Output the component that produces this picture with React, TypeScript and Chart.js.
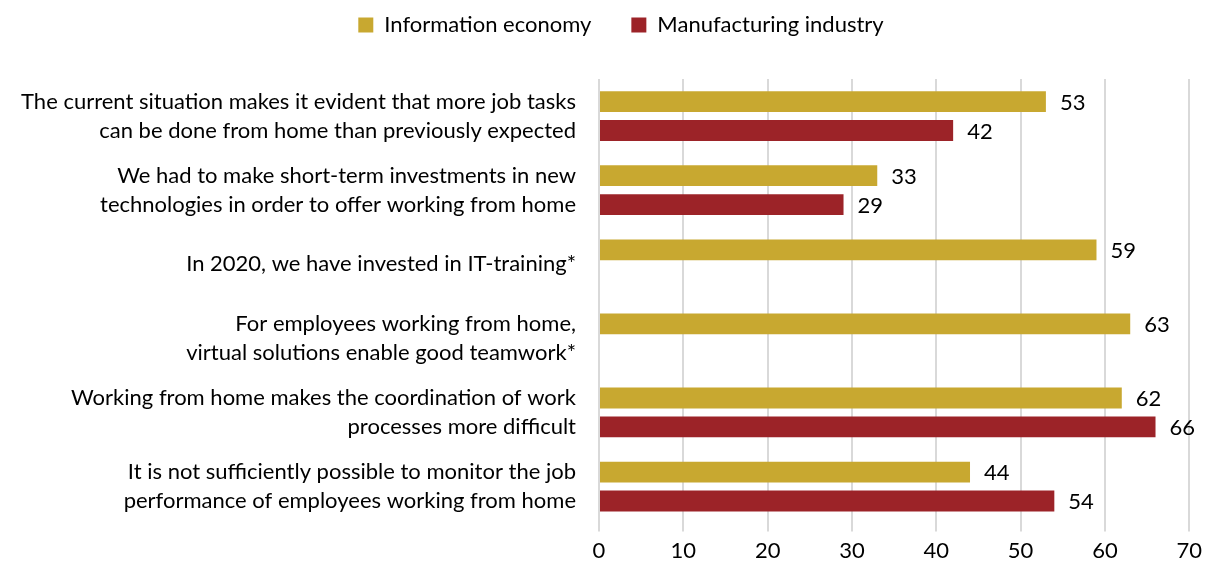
import React, { useEffect, useRef } from "react";
import { Chart, registerables } from "chart.js";

Chart.register(...registerables);

const categories: string[][] = [
  ["The current situation makes it evident that more job tasks", "can be done from home than previously expected"],
  ["We had to make short-term investments in new", "technologies in order to offer working from home"],
  ["In 2020, we have invested in IT-training*"],
  ["For employees working from home,", "virtual solutions enable good teamwork*"],
  ["Working from home makes the coordination of work", "processes more difficult"],
  ["It is not sufficiently possible to monitor the job", "performance of employees working from home"],
];

const informationEconomy: (number | null)[] = [53, 33, 59, 63, 62, 44];
const manufacturingIndustry: (number | null)[] = [42, 29, null, null, 66, 54];

const xTicks: number[] = [0, 10, 20, 30, 40, 50, 60, 70];

const FONT = "Lato";
const FS = 22;

const valueLabels = {
  id: "valueLabels",
  afterDatasetsDraw(chart: any) {
    const ctx = chart.ctx;
    ctx.save();
    ctx.font = `${FS}px ${FONT}`;
    ctx.fillStyle = "#000";
    ctx.textBaseline = "middle";
    ctx.textAlign = "left";
    chart.data.datasets.forEach((ds: any, di: number) => {
      const meta = chart.getDatasetMeta(di);
      meta.data.forEach((bar: any, i: number) => {
        const v = ds.data[i];
        if (v === null || v === undefined) return;
        ctx.fillText(String(v), bar.x + 14, bar.y + 1);
      });
    });
    ctx.restore();
  },
};

const legendSpacing = {
  id: "legendSpacing",
  beforeInit(chart: any) {
    const legend = chart.legend;
    if (!legend) return;
    const origFit = legend.fit;
    legend.fit = function () {
      origFit.bind(legend)();
      this.height = 105;
    };
  },
  afterLayout(chart: any) {
    if (chart.legend) chart.legend.left += 40;
  },
};

export default function App() {
  const ref = useRef<HTMLCanvasElement>(null);
  useEffect(() => {
    document.body.style.margin = "0";
    const chart = new Chart(ref.current!, {
      type: "bar",
      data: {
        labels: categories,
        datasets: [
          {
            label: "Information economy",
            data: informationEconomy,
            backgroundColor: "#C8A830",
            categoryPercentage: 0.78,
            barPercentage: 0.72,
          },
          {
            label: "Manufacturing industry",
            data: manufacturingIndustry,
            backgroundColor: "#9C2328",
            categoryPercentage: 0.78,
            barPercentage: 0.72,
          },
        ],
      },
      options: {
        indexAxis: "y",
        animation: false,
        responsive: false,
        maintainAspectRatio: false,
        layout: { padding: { left: 0, right: 6, top: -26, bottom: -7 } },
        plugins: {
          legend: {
            position: "top",
            labels: {
              font: { family: FONT, size: FS },
              color: "#000",
              boxWidth: 15,
              boxHeight: 15,
              padding: 40,
            },
          },
          tooltip: { enabled: false },
        },
        scales: {
          x: {
            min: 0,
            max: 70,
            afterBuildTicks: (axis: any) => {
              axis.ticks = xTicks.map((v) => ({ value: v }));
            },
            ticks: {
              font: { family: FONT, size: FS },
              color: "#000",
              padding: 6,
            },
            grid: {
              color: "#d9d9d9",
              lineWidth: 2,
              drawTicks: true,
              tickLength: 8,
            },
            border: { display: false },
          },
          y: {
            afterFit: (axis: any) => {
              axis.width = 599;
              axis.paddingTop = 0;
              axis.paddingBottom = 0;
            },
            ticks: {
              font: { family: FONT, size: FS, lineHeight: 1.32 },
              color: "#000",
              padding: 23,
              autoSkip: false,
            },
            grid: { display: false, drawTicks: false },
            border: { display: false },
          },
        },
      },
      plugins: [valueLabels, legendSpacing],
    } as any);
    return () => chart.destroy();
  }, []);
  return (
    <div style={{ position: "absolute", left: 0, top: 0, width: 1208, height: 563 }}>
      <canvas ref={ref} width={1208} height={563} />
    </div>
  );
}
